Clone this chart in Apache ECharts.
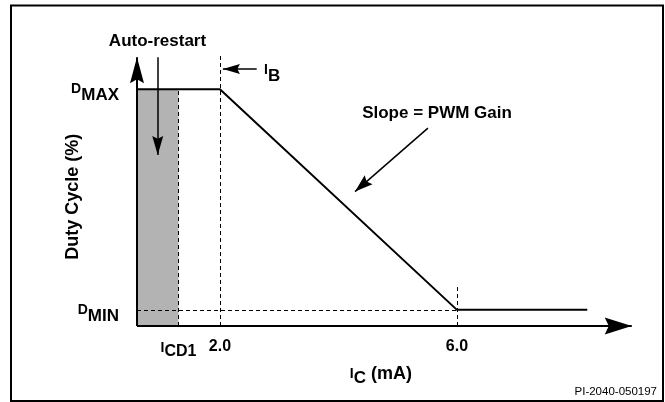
<!DOCTYPE html>
<html><head><meta charset="utf-8">
<script src="https://cdn.jsdelivr.net/npm/echarts@6/dist/echarts.min.js"></script>
<style>html,body{margin:0;padding:0;background:#fff}#c{width:665px;height:402px}</style>
</head><body><div id="c"></div>
<script>
// ---------- data (x: I_C in mA, y: duty cycle in %, schematic) ----------
const xMin = 0.6, xMax = 9.0;
const yMin = 0, yMax = 115;
const D_MAX = 92.5, D_MIN = 6.3;
const I_CD1 = 1.3, I_B = 2.0, I_END = 6.0, X_LAST = 8.2;
const curveX = [xMin, I_B, I_END, X_LAST];
const curveY = [D_MAX, D_MAX, D_MIN, D_MIN];
const xTickValues = [I_CD1, I_B, I_END];
const xTickLabels = ['{i|I}{s|CD1}', '{n|2.0}', '{n|6.0}'];
const yTickValues = [D_MIN, D_MAX];
const yTickLabels = ['{d|D}{s|MIN}', '{d|D}{s|MAX}'];
// axis arrow ends
const yAxisTip = 105;
const xAxisTip = 8.95;
// dashed guide tops
const ibGuideTop = 105.9;
const endGuideTop = 15.2;
// annotation arrows [from, to]
const autoRestartArrow = [[0.95, 105], [0.95, 66.8]];
const ibArrow = [[2.62, 100.4], [2.05, 100.4]];
const slopeArrow = [[5.51, 77.3], [4.28, 52.5]];

const F = 'Liberation Sans, Arial, Helvetica, sans-serif';
const ARROW = 'path://M5,0 L10,20 L5,17 L0,20 Z';
const B = {color:'#000', fontWeight:'bold', fontFamily:F};

const chart = echarts.init(document.getElementById('c'), null, {renderer:'canvas'});
chart.setOption({
  animation:false,
  backgroundColor:'#fff',
  grid:{left:137, top:31.6, bottom:76, right:30.3, containLabel:false, outerBoundsMode:'none'},
  xAxis:{
    type:'value', min:xMin, max:xMax,
    axisLine:{show:false}, axisTick:{show:false}, splitLine:{show:false},
    axisLabel:{
      customValues:xTickValues, margin:10,
      formatter:function(v){ const i = xTickValues.findIndex(t=>Math.abs(t-v)<1e-6); return i>=0 ? xTickLabels[i] : ''; },
      rich:{
        i:Object.assign({fontSize:14}, B),
        s:Object.assign({fontSize:16, padding:[8,0,0,0]}, B),
        n:Object.assign({fontSize:16, padding:[3,0,0,0]}, B)
      }
    },
    name:'{i|I}{c|C}{t| (mA)}', nameLocation:'middle', nameGap:36, nameMoveOverlap:false,
    nameTextStyle:{padding:[0,10,0,0], rich:{
      i:Object.assign({fontSize:14}, B),
      c:Object.assign({fontSize:17, padding:[8,0,0,0]}, B),
      t:Object.assign({fontSize:18}, B)
    }}
  },
  yAxis:{
    type:'value', min:yMin, max:yMax,
    axisLine:{show:false}, axisTick:{show:false}, splitLine:{show:false},
    axisLabel:{
      customValues:yTickValues, margin:18,
      formatter:function(v){ const i = yTickValues.findIndex(t=>Math.abs(t-v)<1e-6); return i>=0 ? yTickLabels[i] : ''; },
      rich:{
        d:Object.assign({fontSize:14}, B),
        s:Object.assign({fontSize:17, padding:[12,0,0,0]}, B)
      }
    },
    name:'Duty Cycle (%)', nameLocation:'middle', nameGap:55, nameMoveOverlap:false,
    nameTextStyle:Object.assign({fontSize:18, padding:[0,36,0,0]}, B)
  },
  series:[
    {
      type:'line', name:'curve', z:5, silent:true,
      data:curveX.map((x,i)=>[x, curveY[i]]),
      symbol:'none', lineStyle:{color:'#000', width:2},
      markArea:{silent:true, z:1, itemStyle:{color:'#b3b3b3'}, label:{show:false},
        data:[[{coord:[xMin, yMin]}, {coord:[I_CD1, D_MAX]}]]}
    },
    {
      type:'line', name:'guides', z:3, data:[], silent:true,
      markLine:{silent:true, symbol:['none','none'], label:{show:false}, emphasis:{disabled:true},
        lineStyle:{color:'#000', width:1, type:[4,3]},
        data:[
          [{coord:[I_CD1, yMin]}, {coord:[I_CD1, D_MAX]}],
          [{coord:[I_B, yMin]}, {coord:[I_B, ibGuideTop]}],
          [{coord:[I_END, yMin]}, {coord:[I_END, endGuideTop]}],
          [{coord:[xMin, D_MIN]}, {coord:[I_END, D_MIN]}]
        ]}
    },
    {
      type:'line', name:'axes', z:6, data:[], silent:true,
      markLine:{silent:true, symbol:['none', ARROW], symbolOffset:[0, [0,'50%']], label:{show:false}, emphasis:{disabled:true},
        lineStyle:{color:'#000', width:2, type:'solid'},
        data:[
          [{coord:[xMin, yMin]}, {coord:[xMin, yAxisTip], symbolSize:[14,26]}],
          [{coord:[xMin, yMin]}, {coord:[xAxisTip, yMin], symbolSize:[17,27]}]
        ]}
    },
    {
      type:'line', name:'notes', z:6, data:[], silent:true,
      markLine:{silent:true, symbol:['none', ARROW], symbolOffset:[0, [0,'50%']], label:{show:false}, emphasis:{disabled:true},
        lineStyle:{color:'#000', width:1.5, type:'solid'},
        data:[
          [{coord:autoRestartArrow[0]}, {coord:autoRestartArrow[1], symbolSize:[11,19]}],
          [{coord:ibArrow[0]}, {coord:ibArrow[1], symbolSize:[10,17]}],
          [{coord:slopeArrow[0]}, {coord:slopeArrow[1], symbolSize:[12,18]}]
        ]}
    }
  ],
  graphic:[
    {type:'rect', z:100, silent:true, shape:{x:11, y:5.5, width:652, height:395.5}, style:{fill:'none', stroke:'#000', lineWidth:2}},
    {type:'text', z:100, silent:true, x:157.5, y:41, style:{text:'Auto-restart', align:'center', verticalAlign:'middle', fill:'#000', font:'bold 17px '+F}},
    {type:'text', z:100, silent:true, x:437, y:113.5, style:{text:'Slope = PWM Gain', align:'center', verticalAlign:'middle', fill:'#000', font:'bold 17px '+F}},
    {type:'text', z:100, silent:true, x:264, y:70, style:{text:'{i|I}{b|B}', align:'left', verticalAlign:'middle', fill:'#000',
      rich:{i:Object.assign({fontSize:14}, B), b:Object.assign({fontSize:17, padding:[12,0,0,0]}, B)}}},
    {type:'text', z:100, silent:true, x:657, y:391.5, style:{text:'PI-2040-050197', align:'right', verticalAlign:'middle', fill:'#000', font:'11.5px '+F}}
  ]
});
</script></body></html>
